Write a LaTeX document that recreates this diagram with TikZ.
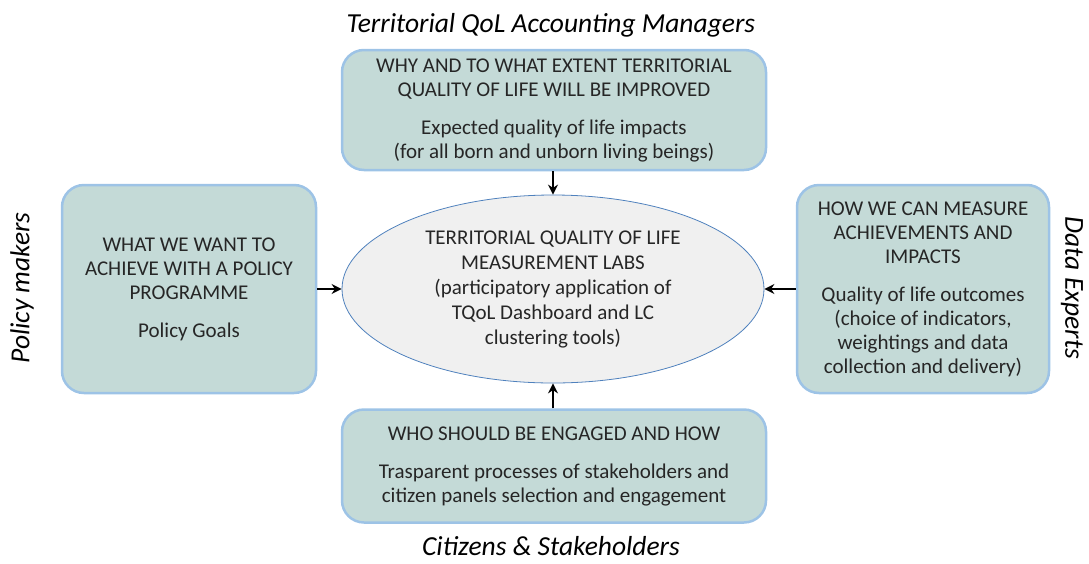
\documentclass[tikz,border=0pt]{standalone}
\usepackage{fontspec}
\setmainfont{Carlito}
\usetikzlibrary{shapes.geometric,arrows.meta}
\definecolor{boxfill}{HTML}{C4DAD7}
\definecolor{glow}{HTML}{9DC3E6}
\definecolor{ellfill}{HTML}{F0F0F0}
\definecolor{ellline}{HTML}{4F81BD}
\definecolor{txt}{HTML}{262626}
\tikzset{
  qbox/.style={draw=glow, line width=2.5pt, fill=boxfill, rounded corners=22pt,
    align=center, text=txt, font=\fontsize{21}{24}\selectfont, inner sep=0pt},
  qell/.style={ellipse, draw=ellline, line width=0.8pt, fill=ellfill,
    align=center, text=txt, font=\fontsize{21}{25}\selectfont, inner sep=0pt},
  role/.style={text=black, font=\fontsize{27.5}{30}\selectfont\itshape, inner sep=0pt},
  conn/.style={-{Stealth[length=10pt,width=10pt]}, line width=2.6pt, black}
}
\begin{document}
\begin{tikzpicture}[x=1pt,y=-1pt]
\useasboundingbox (0,0) rectangle (1089,563);
\node[qbox, minimum width=424pt, minimum height=120pt] (top) at (554,110)
  {WHY AND TO WHAT EXTENT TERRITORIAL\\ QUALITY OF LIFE WILL BE IMPROVED\\[14pt]
   Expected quality of life impacts\\ (for all born and unborn living beings)};
\node[qbox, minimum width=254pt, minimum height=208pt] (left) at (189,289)
  {WHAT WE WANT TO\\ ACHIEVE WITH A POLICY\\ PROGRAMME\\[14pt] Policy Goals};
\node[qbox, minimum width=252pt, minimum height=208pt] (right) at (923,289)
  {HOW WE CAN MEASURE\\ ACHIEVEMENTS AND\\ IMPACTS\\[14pt] Quality of life outcomes\\
   (choice of indicators,\\ weightings and data\\ collection and delivery)};
\node[qbox, minimum width=424pt, minimum height=113pt] (bottom) at (554,466)
  {WHO SHOULD BE ENGAGED AND HOW\\[14pt]
   Trasparent processes of stakeholders and\\ citizen panels selection and engagement};
\node[qell, minimum width=422pt, minimum height=188pt] (lab) at (553,289)
  {TERRITORIAL QUALITY OF LIFE\\ MEASUREMENT LABS\\ (participatory application of\\
   TQoL Dashboard and LC\\ clustering tools)};
\node[role] (tm) at (551,25) {Territorial QoL Accounting Managers};
\node[role] (cs) at (551,546) {Citizens \& Stakeholders};
\node[role, rotate=90] (pm) at (22,288) {Policy makers};
\node[role, rotate=-90] (de) at (1072,288) {Data Experts};
\draw[conn] (top.south -| lab.north) -- (lab.north);
\draw[conn] (bottom.north -| lab.south) -- (lab.south);
\draw[conn] (left.east |- lab.west) -- (lab.west);
\draw[conn] (right.west |- lab.east) -- (lab.east);
\end{tikzpicture}
\end{document}
